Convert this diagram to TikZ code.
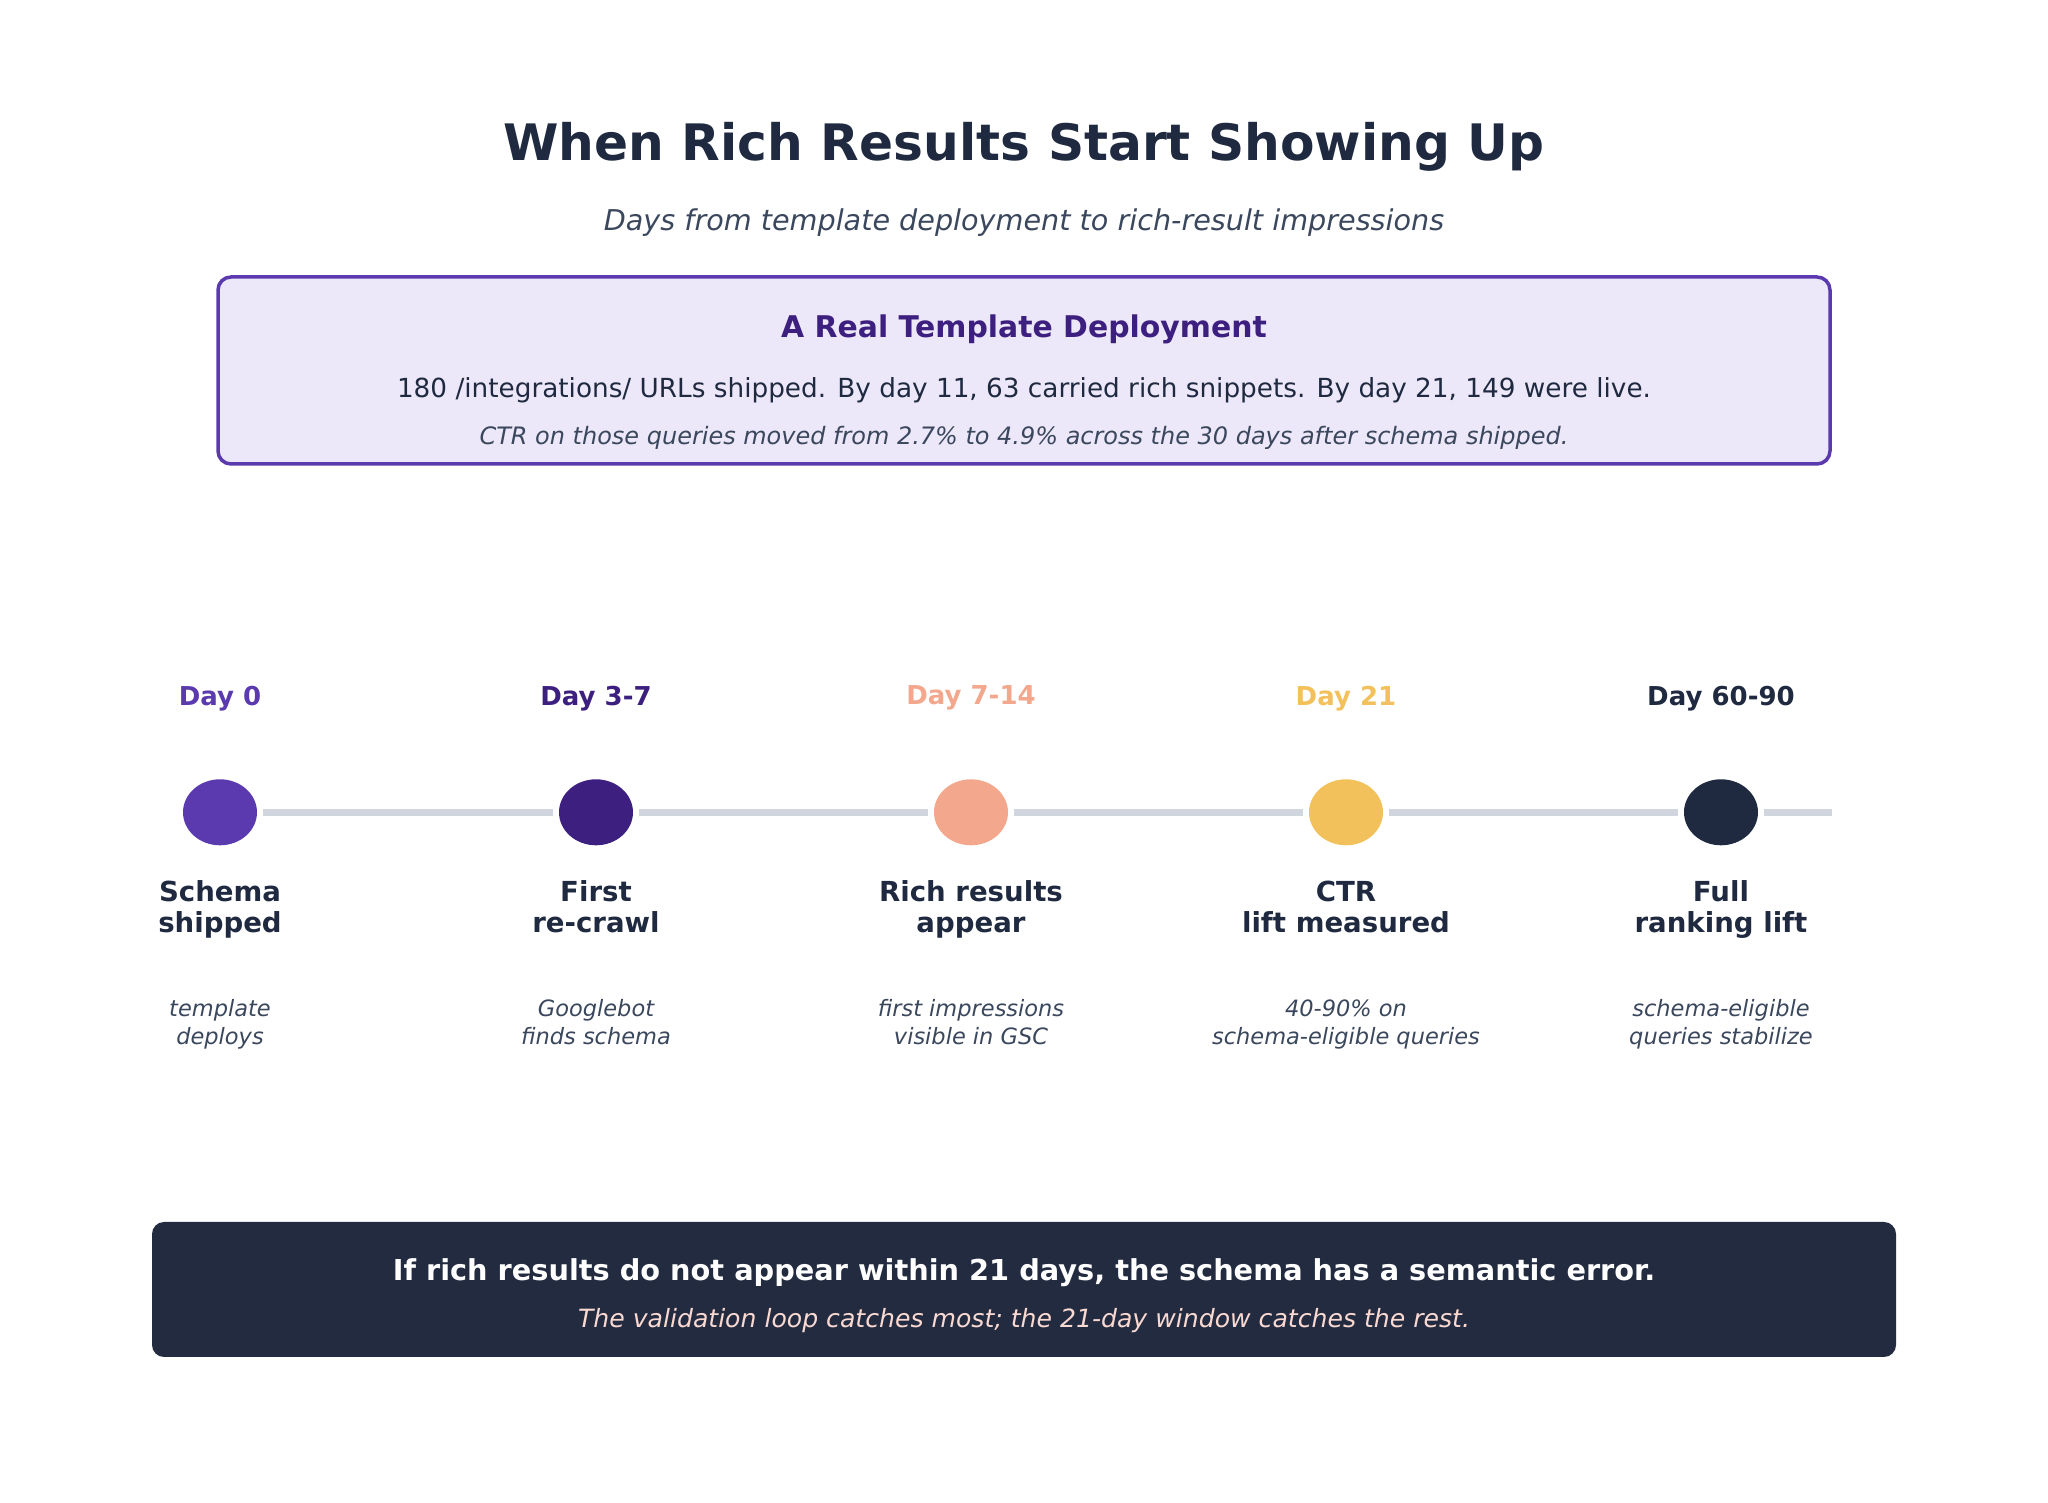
\documentclass[tikz,border=0pt]{standalone}
\usepackage{fontspec}
\setmainfont{DejaVu Sans}
\usepackage{xcolor}
\usepackage{tikz}
\usetikzlibrary{shapes,positioning}
\definecolor{navy}{HTML}{1F2A40}
\definecolor{boxnavy}{HTML}{222B40}
\definecolor{slate}{HTML}{3A475C}
\definecolor{violet}{HTML}{5B3AAF}
\definecolor{deepviolet}{HTML}{3C1F7F}
\definecolor{salmon}{HTML}{F3A78D}
\definecolor{amber}{HTML}{F3C15B}
\definecolor{lavender}{HTML}{EDE8F9}
\definecolor{rail}{HTML}{D1D5DD}
\definecolor{blush}{HTML}{FAD9D2}
\tikzset{stage/.style={ellipse,minimum width=0.74cm,minimum height=0.66cm,inner sep=0pt,outer sep=0.06cm},
  rl/.style={line width=0.07cm,draw=rail},
  daylbl/.style={font=\bfseries\fontsize{7.4}{8.8}\selectfont},
  steplbl/.style={font=\bfseries\fontsize{7.85}{8.8}\selectfont,text=navy,align=center,
    execute at begin node=\strut,execute at end node=\strut},
  note/.style={font=\itshape\fontsize{6.4}{7.9}\selectfont,text=slate,align=center,
    execute at begin node=\strut,execute at end node=\strut}}

\begin{document}
\begin{tikzpicture}
    \useasboundingbox (0,0) rectangle (20.48,15.03);

    % heading
    \node[font=\bfseries\fontsize{14.3}{17}\selectfont,text=navy] (title) at (10.24,13.565) {When Rich Results Start Showing Up};
    \node[font=\itshape\fontsize{8.15}{10}\selectfont,text=slate] (sub) at (10.24,12.80) {Days from template deployment to rich-result impressions};

    % case box
    \draw[violet,line width=0.035cm,fill=lavender,rounded corners=0.13cm] (2.18,10.39) rectangle (18.30,12.26);
    \node[font=\bfseries\fontsize{8.5}{10}\selectfont,text=deepviolet] (bt) at (10.24,11.735) {A Real Template Deployment};
    \node[font=\fontsize{7.48}{9}\selectfont,text=navy] (b1) at (10.24,11.125) {180 /integrations/ URLs shipped. By day 11, 63 carried rich snippets. By day 21, 149 were live.};
    \node[font=\itshape\fontsize{6.82}{8}\selectfont,text=slate] (b2) at (10.24,10.655) {CTR on those queries moved from 2.7\% to 4.9\% across the 30 days after schema shipped.};

    % timeline
    \node[stage,fill=violet] (a) at (2.20,6.907) {};
    \node[stage,fill=deepviolet] (b) at (5.96,6.907) {};
    \node[stage,fill=salmon] (c) at (9.71,6.907) {};
    \node[stage,fill=amber] (d) at (13.46,6.907) {};
    \node[stage,fill=navy] (e) at (17.21,6.907) {};
    \coordinate (tend) at (18.32,6.907);

    \draw[rl] (a) -- (b);
    \draw[rl] (b) -- (c);
    \draw[rl] (c) -- (d);
    \draw[rl] (d) -- (e);
    \draw[rl] (e) -- (tend);

    \node[daylbl,text=violet] (da) at (2.20,8.047) {Day 0};
    \node[daylbl,text=deepviolet] (db) at (5.96,8.047) {Day 3-7};
    \node[daylbl,text=salmon] (dc) at (9.71,8.047) {Day 7-14};
    \node[daylbl,text=amber] (dd) at (13.46,8.047) {Day 21};
    \node[daylbl,text=navy] (de) at (17.21,8.047) {Day 60-90};

    \node[steplbl] (sa) at (2.20,5.92) {Schema\\shipped};
    \node[steplbl] (sb) at (5.96,5.92) {First\\re-crawl};
    \node[steplbl] (sc) at (9.71,5.92) {Rich results\\appear};
    \node[steplbl] (sd) at (13.46,5.92) {CTR\\lift measured};
    \node[steplbl] (se) at (17.21,5.92) {Full\\ranking lift};

    \node[note] (na) at (2.20,4.768) {template\\deploys};
    \node[note] (nb) at (5.96,4.768) {Googlebot\\finds schema};
    \node[note] (nc) at (9.71,4.768) {first impressions\\visible in GSC};
    \node[note] (nd) at (13.46,4.768) {40-90\% on\\schema-eligible queries};
    \node[note] (ne) at (17.21,4.768) {schema-eligible\\queries stabilize};

    % takeaway
    \fill[boxnavy,rounded corners=0.12cm] (1.52,1.46) rectangle (18.96,2.81);
    \node[font=\bfseries\fontsize{8.19}{10}\selectfont,text=white] (r1) at (10.24,2.304) {If rich results do not appear within 21 days, the schema has a semantic error.};
    \node[font=\itshape\fontsize{7.15}{8.5}\selectfont,text=blush] (r2) at (10.24,1.824) {The validation loop catches most; the 21-day window catches the rest.};
\end{tikzpicture}
\end{document}
